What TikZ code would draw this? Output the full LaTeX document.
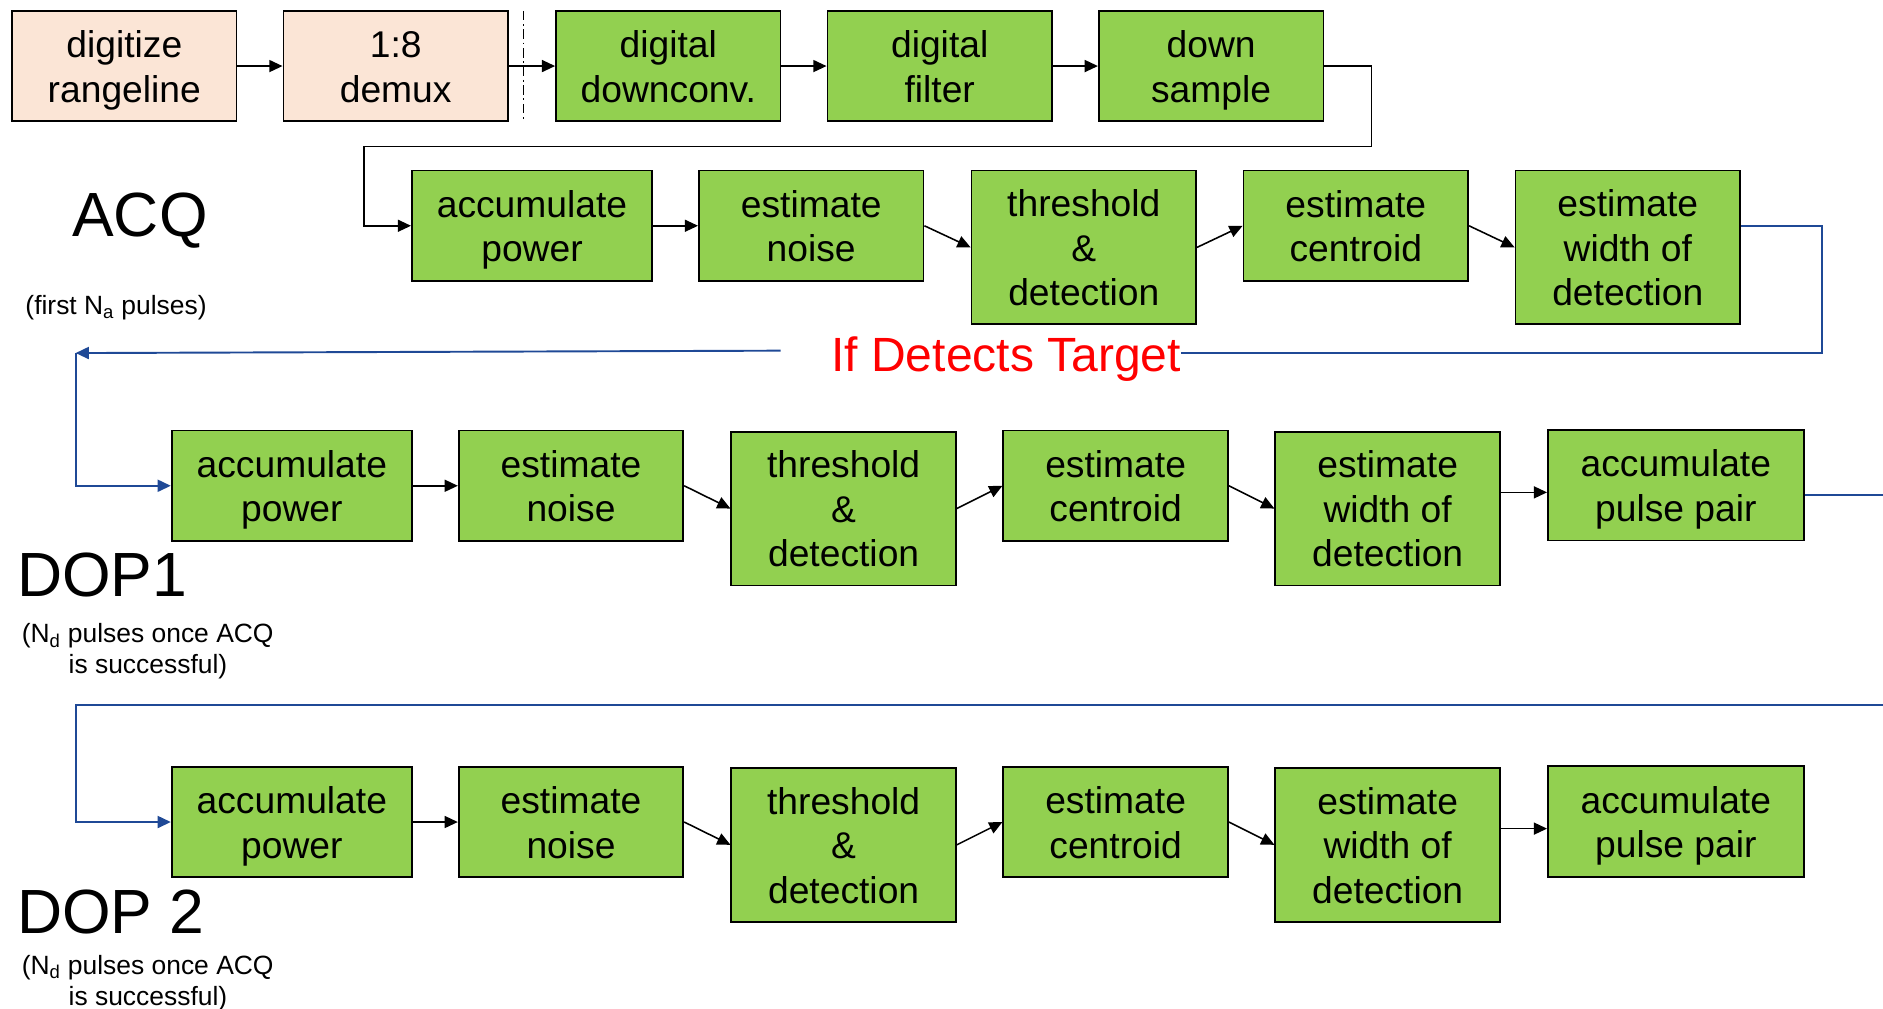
\documentclass[tikz,border=0pt]{standalone}
\usepackage{fontspec}
\setmainfont{Liberation Sans}
\usetikzlibrary{arrows.meta,calc}
\definecolor{gfill}{RGB}{146,208,80}
\definecolor{pfill}{RGB}{251,229,214}
\definecolor{lblue}{RGB}{31,73,150}
\newcommand{\topstr}{\rule{0pt}{30pt}}
\newcommand{\botstr}{\rule[-7pt]{0pt}{7pt}}
\begin{document}
\begin{tikzpicture}[x=1pt,y=-1pt,
 box/.style={draw=black,line width=1.5pt,fill=gfill,align=center,inner sep=0pt,font=\fontsize{31}{37}\selectfont,
   execute at end node=\botstr},
 pbox/.style={box,fill=pfill},
 std/.style={minimum width=187pt,minimum height=92pt},
 wid/.style={minimum width=200pt,minimum height=92pt},
 tall/.style={minimum width=187pt,minimum height=128pt},
 arr/.style={line width=1.3pt,-{Triangle[length=11pt,width=10pt]}},
 bl/.style={draw=lblue,line width=1.6pt},
 blarr/.style={bl,-{Triangle[length=11pt,width=10pt]}},
 big/.style={font=\fontsize{52}{60}\selectfont,inner sep=0pt},
 small/.style={font=\fontsize{22}{26}\selectfont,inner sep=0pt,align=left},
]
\useasboundingbox (0,0) rectangle (1568,840);

% Row 1
\node[pbox,std] (a1) at (103.5,55) {\topstr digitize\\rangeline};
\node[pbox,std] (a2) at (329.5,55) {\topstr 1:8\\demux};
\node[box,std] (a3) at (556.5,55) {\topstr digital\\downconv.};
\node[box,std] (a4) at (782.5,55) {\topstr digital\\filter};
\node[box,std] (a5) at (1008.5,55) {\topstr down\\sample};
\draw[line width=1.2pt,dash pattern=on 8pt off 3pt on 1.5pt off 3pt] (436,9) -- (436,101);
\draw[arr] (a1) -- (a2);
\draw[arr] (a2) -- (a3);
\draw[arr] (a3) -- (a4);
\draw[arr] (a4) -- (a5);

% Row 2 (ACQ)
\node[box,wid] (b1) at (443,188) {\topstr accumulate\\power};
\node[box,std] (b2) at (675.5,188) {\topstr estimate\\noise};
\node[box,tall] (b3) at (902.5,206) {\topstr threshold\\\&\\detection};
\node[box,std] (b4) at (1129,188) {\topstr estimate\\centroid};
\node[box,tall] (b5) at (1355.5,206) {\topstr estimate\\width of\\detection};
\coordinate (k1) at (1142,55);
\coordinate (k2) at (1142,122);
\coordinate (k3) at (303,122);
\draw[arr] (a5.east) -- (k1) -- (k2) -- (k3) -- (k3 |- b1.west) -- (b1.west);
\draw[arr] (b1) -- (b2);
\draw[arr] (b2.east) -- (b3.west);
\draw[arr] (b3.east) -- (b4.west);
\draw[arr] (b4.east) -- (b5.west);

\node[big,anchor=base west] (acq) at (60,197) {ACQ};
\node[small,anchor=base west] (acqs) at (21,262) {(first N\textsubscript{a} pulses)};

% feedback ACQ -> DOP1
\node[font=\fontsize{40}{47}\selectfont,text=red,inner sep=0pt,anchor=base west] (tgt) at (692,309) {If Detects Target};
\coordinate (r1) at (1517,188);
\coordinate (r2) at (1517,294);
\coordinate (l1) at (650,292);
\coordinate (l2) at (63,294);
\draw[bl] (b5.east |- b4.east) -- (r1) -- (r2) -- (tgt.east |- r2);

% Row 3 (DOP1)
\node[box,wid] (c1) at (243,404.5) {\topstr accumulate\\power};
\node[box,std] (c2) at (475.5,404.5) {\topstr estimate\\noise};
\node[box,tall] (c3) at (702.5,423.5) {\topstr threshold\\\&\\detection};
\node[box,std] (c4) at (929,404.5) {\topstr estimate\\centroid};
\node[box,tall] (c5) at (1155.5,423.5) {\topstr estimate\\width of\\detection};
\node[box,minimum width=213pt,minimum height=92pt] (c6) at (1395.5,404) {\topstr accumulate\\pulse pair};
\draw[blarr] (l1) -- (l2);
\draw[blarr] (l2) -- (l2 |- c1.west) -- (c1.west);
\draw[arr] (c1) -- (c2);
\draw[arr] (c2.east) -- (c3.west);
\draw[arr] (c3.east) -- (c4.west);
\draw[arr] (c4.east) -- (c5.west);
\draw[arr] ([yshift=-6pt]c5.east |- c6.west) -- ([yshift=-6pt]c6.west);

\node[big,anchor=base west] (dop1) at (14,497) {DOP1};
\node[small,anchor=north west] (dop1s) at (18,519) {(N\textsubscript{d} pulses once ACQ\\\hspace*{39pt}is successful)};

% wrap DOP1 -> DOP2
\coordinate (e1) at (1568,412);
\coordinate (e2) at (1568,587);
\coordinate (m1) at (63,587);
\draw[bl] ([yshift=-8pt]c6.east) -- (e1);

% Row 4 (DOP2)
\node[box,wid] (d1) at (243,684.5) {\topstr accumulate\\power};
\node[box,std] (d2) at (475.5,684.5) {\topstr estimate\\noise};
\node[box,tall] (d3) at (702.5,703.5) {\topstr threshold\\\&\\detection};
\node[box,std] (d4) at (929,684.5) {\topstr estimate\\centroid};
\node[box,tall] (d5) at (1155.5,703.5) {\topstr estimate\\width of\\detection};
\node[box,minimum width=213pt,minimum height=92pt] (d6) at (1395.5,684) {\topstr accumulate\\pulse pair};
\draw[blarr] (e2) -- (m1) -- (m1 |- d1.west) -- (d1.west);
\draw[arr] (d1) -- (d2);
\draw[arr] (d2.east) -- (d3.west);
\draw[arr] (d3.east) -- (d4.west);
\draw[arr] (d4.east) -- (d5.west);
\draw[arr] ([yshift=-6pt]d5.east |- d6.west) -- ([yshift=-6pt]d6.west);

\node[big,anchor=base west] (dop2) at (14,777) {DOP 2};
\node[small,anchor=north west] (dop2s) at (18,795) {(N\textsubscript{d} pulses once ACQ\\\hspace*{39pt}is successful)};
\end{tikzpicture}
\end{document}
